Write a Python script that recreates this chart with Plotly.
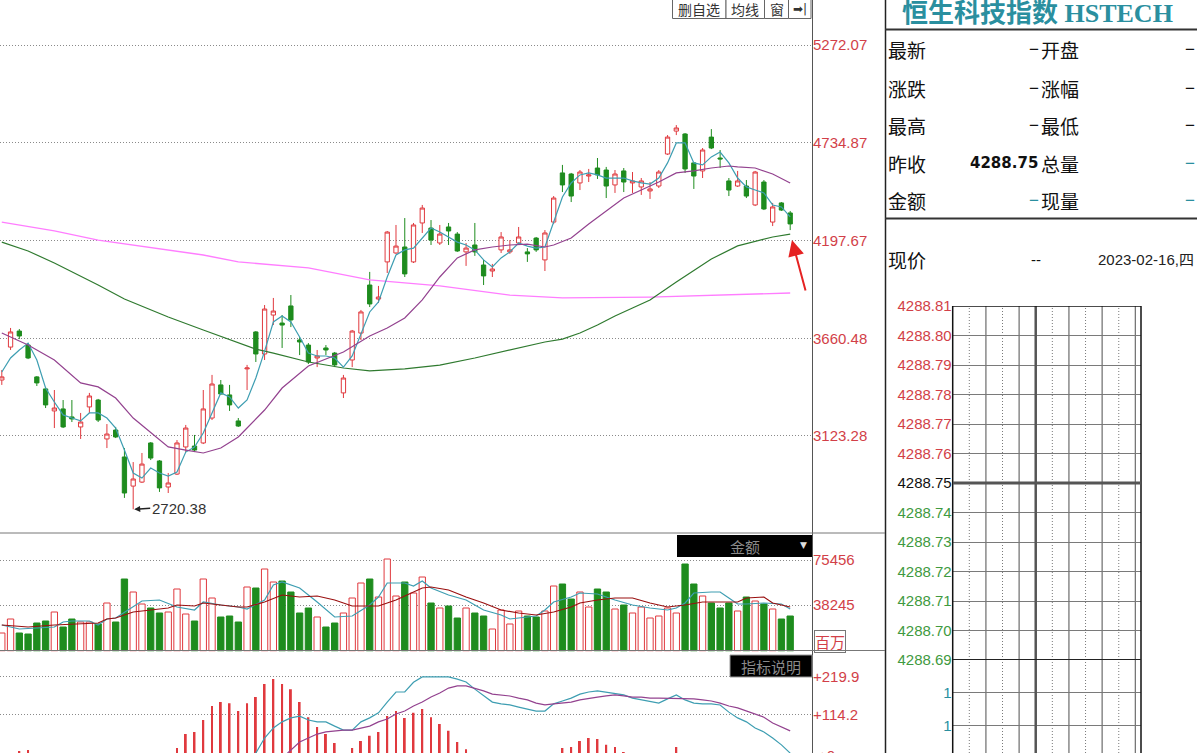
import plotly.graph_objects as go

W, H = 1197, 753

# ---------------- data ----------------
idx = list(range(91))
opens = [3431, 3612, 3700, 3623, 3448, 3382, 3261, 3272, 3228, 3173,
         3283, 3321, 3107, 3156, 3008, 2848, 2870, 3085, 2986, 2843,
         2914, 3063, 3068, 3085, 3222, 3404, 3349, 3206, 3492, 3695,
         3574, 3788, 3744, 3838, 3651, 3623, 3552, 3607, 3579, 3360,
         3541, 3689, 3953, 3876, 4080, 4129, 4162, 4080, 4294, 4266,
         4184, 4272, 4233, 4135, 4173, 4063, 4030, 4146, 4135, 4184,
         4135, 4211, 4091, 4299, 4569, 4563, 4514, 4552, 4596, 4585,
         4503, 4580, 4514, 4492, 4470, 4497, 4673, 4799, 4783, 4624,
         4580, 4766, 4651, 4525, 4497, 4497, 4393, 4519, 4299, 4404,
         4349]
highs = [3486, 3717, 3711, 3634, 3453, 3393, 3376, 3321, 3321, 3250,
         3360, 3327, 3189, 3173, 3057, 2980, 3030, 3090, 2991, 2920,
         3101, 3184, 3129, 3376, 3459, 3431, 3404, 3222, 3514, 3700,
         3843, 3882, 3788, 3898, 3667, 3634, 3596, 3623, 3585, 3459,
         3706, 3816, 4025, 3948, 4250, 4283, 4321, 4294, 4393, 4310,
         4283, 4294, 4244, 4184, 4294, 4091, 4069, 4244, 4200, 4272,
         4156, 4217, 4255, 4442, 4613, 4569, 4585, 4591, 4651, 4602,
         4585, 4596, 4574, 4541, 4519, 4585, 4777, 4832, 4788, 4629,
         4706, 4810, 4695, 4541, 4580, 4530, 4580, 4530, 4404, 4409,
         4360]
lows = [3404, 3596, 3656, 3546, 3398, 3277, 3167, 3167, 3200, 3107,
        3250, 3200, 3057, 3112, 2783, 2720.38, 2865, 2991, 2816, 2810,
        2909, 3035, 3035, 3079, 3211, 3349, 3261, 3173, 3376, 3530,
        3541, 3733, 3607, 3722, 3568, 3519, 3502, 3568, 3502, 3332,
        3502, 3651, 3832, 3854, 4019, 4124, 3997, 4074, 4239, 4173,
        4173, 4173, 4135, 4058, 4113, 3953, 3997, 4129, 4124, 4173,
        4080, 4135, 4030, 4288, 4464, 4409, 4475, 4519, 4536, 4431,
        4459, 4464, 4459, 4448, 4426, 4486, 4668, 4777, 4569, 4481,
        4541, 4700, 4596, 4442, 4492, 4431, 4387, 4365, 4277, 4360,
        4255]
closes = [3448, 3695, 3673, 3552, 3415, 3294, 3277, 3173, 3217, 3200,
          3343, 3211, 3134, 3118, 2810, 2887, 2969, 3002, 2838, 2865,
          3085, 3167, 3046, 3272, 3409, 3354, 3294, 3178, 3497, 3574,
          3821, 3810, 3733, 3761, 3640, 3530, 3563, 3596, 3514, 3442,
          3700, 3805, 3849, 3887, 4244, 4167, 4014, 4283, 4376, 4200,
          4233, 4250, 4140, 4156, 4135, 4003, 4041, 4217, 4146, 4217,
          4124, 4146, 4239, 4431, 4503, 4442, 4574, 4558, 4558, 4497,
          4563, 4519, 4525, 4525, 4481, 4574, 4766, 4816, 4591, 4552,
          4695, 4706, 4646, 4475, 4525, 4442, 4574, 4371, 4382, 4365,
          4288.75]

ma5 = [3475, 3552, 3596, 3634, 3541, 3387, 3310, 3239, 3222, 3206,
       3250, 3250, 3222, 3167, 3046, 2920, 2892, 2947, 2920, 2903,
       2925, 3035, 3063, 3140, 3250, 3360, 3338, 3277, 3321, 3442,
       3590, 3750, 3783, 3750, 3667, 3579, 3563, 3563, 3552, 3502,
       3563, 3689, 3805, 3860, 3997, 4118, 4146, 4156, 4211, 4266,
       4244, 4217, 4189, 4173, 4146, 4091, 4052, 4102, 4135, 4184,
       4167, 4156, 4162, 4299, 4437, 4514, 4558, 4569, 4558, 4541,
       4541, 4541, 4525, 4514, 4508, 4541, 4624, 4734, 4734, 4624,
       4613, 4657, 4684, 4624, 4541, 4492, 4475, 4459, 4393, 4382,
       4327]

ma20_idx = [0, 3, 6, 9, 11, 13, 15, 17, 19, 21, 23, 25, 27, 28, 30, 32, 35, 39, 42, 44,
            46, 48, 50, 52, 54, 56, 58, 60, 62, 63, 65, 67, 69, 71, 73, 75, 77, 79, 81, 83,
            84, 86, 88, 90]
ma20_vals = [3689, 3623, 3541, 3415, 3393, 3332, 3222, 3140, 3063, 3046,
             3030, 3057, 3118, 3167, 3266, 3387, 3508, 3585, 3673, 3717,
             3772, 3871, 3997, 4102, 4146, 4162, 4173, 4178, 4162, 4173,
             4211, 4288, 4360, 4431, 4475, 4519, 4569, 4580, 4596, 4607,
             4602, 4596, 4563, 4514]

ma60_idx = [0, 3, 6, 9, 11, 14, 19, 23, 27, 29, 31, 35, 39, 42, 46, 50, 54, 58, 62, 64,
            66, 68, 70, 72, 74, 77, 81, 84, 88, 90]
ma60_vals = [4189, 4140, 4074, 4003, 3953, 3876, 3777, 3706, 3634, 3601,
             3579, 3530, 3497, 3481, 3492, 3513, 3552, 3596, 3640, 3656,
             3689, 3733, 3783, 3827, 3871, 3970, 4096, 4168, 4217, 4233]

ma250_idx = [0, 6, 11, 17, 23, 27, 35, 42, 50, 58, 64, 74, 90]
ma250_vals = [4299, 4250, 4200, 4157, 4118, 4080, 4047, 3981, 3948, 3898, 3882, 3887, 3909]

volumes = [15091, 26668, 15091, 14264, 23360, 25014, 32456, 20052, 26668, 24187,
           24187, 22533, 39898, 24187, 59743, 48994, 39071, 35763, 31629, 32456,
           51475, 30802, 25014, 59743, 44032, 28321, 29148, 24187, 53128, 52301,
           68013, 57263, 58090, 48994, 31629, 35763, 28321, 20052, 23360, 31629,
           44032, 56436, 59743, 44859, 76281, 45686, 57263, 48167, 61397, 39898,
           35763, 37417, 27494, 35763, 31629, 29148, 18399, 34110, 22533, 33283,
           29148, 28321, 33283, 53955, 55609, 43205, 48994, 36590, 51475, 48994,
           34937, 38244, 31629, 36590, 27494, 29148, 35763, 31629, 72147, 55609,
           45686, 39898, 35763, 39898, 33283, 44859, 41552, 39071, 34937, 26668,
           29148]

vol_ma10_idx = [0, 3, 6, 9, 11, 12, 13, 15, 17, 19, 20, 22, 23, 25, 27, 28, 30, 32, 34, 36,
                38, 40, 42, 43, 45, 48, 49, 51, 53, 55, 57, 59, 61, 63, 65, 66, 68, 70, 72, 74,
                76, 78, 80, 82, 84, 85, 87, 88, 90]
vol_ma10_vals = [21706, 20052, 21706, 22533, 23360, 26668, 27494, 32456, 34110, 35763,
                 38244, 37417, 39898, 38244, 36590, 36590, 40725, 46513, 44859, 45686,
                 42379, 37417, 37417, 37417, 42379, 52301, 53128, 50647, 44859, 39898,
                 34110, 31629, 29975, 32456, 36590, 39898, 42379, 44032, 44032, 39898,
                 36590, 38244, 40725, 40725, 40725, 44032, 44859, 39898, 36590]

vol_ma5_idx = [0, 2, 4, 6, 7, 8, 10, 11, 12, 13, 16, 18, 20, 22, 23, 25, 27, 28, 30, 31,
               32, 34, 36, 38, 40, 42, 43, 44, 46, 47, 48, 49, 51, 53, 55, 57, 58, 60, 61, 62,
               63, 65, 66, 68, 70, 72, 74, 76, 77, 78, 79, 81, 82, 83, 84, 85, 87, 89, 90]
vol_ma5_vals = [21706, 18399, 19226, 20052, 24187, 25014, 25014, 21706, 26668, 27494,
                41552, 42379, 36590, 34110, 40725, 38244, 36590, 34937, 42379, 54783,
                57263, 52301, 40725, 28321, 29148, 38244, 44859, 56436, 56436, 53955,
                58090, 52301, 46513, 42379, 34110, 29975, 26668, 28321, 29148, 34110,
                40725, 44859, 48167, 47340, 42379, 38244, 35763, 34110, 35763, 39898,
                48167, 48994, 48994, 44032, 39071, 39071, 39898, 39071, 34937]

macd_hist = [-15, 4, 14, 17, -6, -20, -30, -45, -50, -55,
             -45, -50, -60, -55, -75, -70, -45, -30, -25, -5,
             22, 61, 67, 100, 139, 150, 147, 125, 147, 164,
             200, 214, 200, 186, 150, 108, 81, 61, 36, 6,
             22, 42, 56, 67, 111, 125, 106, 120, 131, 108,
             89, 70, 39, 19, -5, -20, -30, -25, -30, -28,
             -30, -25, -15, 2, 22, 25, 42, 50, 47, 31,
             25, 11, 3, -3, -8, -5, 5, 25, 2, -8,
             -12, -10, -15, -30, -45, -55, -60, -70, -75, -85,
             -90]
dif_idx = list(range(28, 91))
dif_vals = [-40, 8, 50, 78, 95, 106, 111, 100, 95, 95,
            83, 72, 72, 95, 106, 120, 150, 178, 178, 205,
            220, 220, 220, 220, 214, 206, 186, 167, 150, 145,
            142, 136, 131, 125, 125, 145, 153, 161, 172, 178,
            181, 178, 175, 170, 161, 156, 150, 147, 159, 170,
            156, 147, 145, 145, 142, 122, 106, 95, 78, 67,
            50, 31, 8]
dea_idx = list(range(32, 91))
dea_vals = [-6, 17, 39, 50, 61, 67, 70, 72, 72, 78,
            83, 95, 103, 117, 125, 139, 150, 164, 175, 189,
            195, 195, 189, 181, 172, 170, 167, 161, 156, 147,
            142, 145, 147, 150, 156, 161, 164, 167, 170, 167,
            164, 164, 161, 161, 161, 161, 159, 159, 156, 153,
            147, 139, 134, 125, 117, 108, 92, 81, 70]

price_ticks = [3123.28, 3660.48, 4197.67, 4734.87, 5272.07]
vol_ticks = [38245, 75456]
macd_ticks = [114.2, 219.9]
low_point = (15, 2720.38)

prev_close = 4288.75
intraday_ticks = [4288.81, 4288.80, 4288.79, 4288.78, 4288.77, 4288.76, 4288.75,
                  4288.74, 4288.73, 4288.72, 4288.71, 4288.70, 4288.69]
intraday_pct = ["0.00%"] * 13
sub_vol_ticks = [2, 1]
sub_vol_text = ["1", "1"]

title_text = "恒生科技指数 HSTECH"
info_left = ["最新", "涨跌", "最高", "昨收", "金额"]
info_left_val = ["−", "−", "−", "4288.75", "−"]
info_right = ["开盘", "涨幅", "最低", "总量", "现量"]
info_right_val = ["−", "−", "−", "−", "−"]
price_row = ["现价", "--", "2023-02-16,四"]
toolbar = ["删自选", "均线", "窗", "➡|"]

# ---------------- styles ----------------
RED = "#e0393e"
GREEN = "#1e8c1e"
RED_TXT = "#d23f48"
GREEN_TXT = "#3f9a3f"
TEAL = "#3e9eb2"
PURPLE = "#93428f"
MA60C = "#2f7a2f"
PINK = "#ff7dff"
VOLRED = "#9a1010"
TEAL_TXT = "#2a8f9f"
SANS = "Liberation Sans, Arial, sans-serif"
CJK = "Noto Sans CJK SC, sans-serif"
FINE_DOT = "1px,2px"


def fx(px):
    return px / W


def fy(py):
    return 1 - py / H


fig = go.Figure()

# main price panel
fig.add_trace(go.Scatter(x=ma250_idx, y=ma250_vals, mode="lines", line=dict(color=PINK, width=1.3),
                         xaxis="x", yaxis="y", hoverinfo="skip"))
fig.add_trace(go.Scatter(x=ma60_idx, y=ma60_vals, mode="lines", line=dict(color=MA60C, width=1.2),
                         xaxis="x", yaxis="y", hoverinfo="skip"))
fig.add_trace(go.Candlestick(x=idx, open=opens, high=highs, low=lows, close=closes,
                             increasing=dict(line=dict(color=RED, width=1), fillcolor="white"),
                             decreasing=dict(line=dict(color=GREEN, width=1), fillcolor=GREEN),
                             whiskerwidth=0, xaxis="x", yaxis="y", hoverinfo="skip"))
fig.add_trace(go.Scatter(x=idx, y=ma5, mode="lines", line=dict(color=TEAL, width=1.2),
                         xaxis="x", yaxis="y", hoverinfo="skip"))
fig.add_trace(go.Scatter(x=ma20_idx, y=ma20_vals, mode="lines", line=dict(color=PURPLE, width=1.2),
                         xaxis="x", yaxis="y", hoverinfo="skip"))

# volume panel
up = [c >= o for o, c in zip(opens, closes)]
fig.add_trace(go.Bar(x=idx, y=volumes, width=0.72,
                     marker=dict(color=["white" if u else GREEN for u in up],
                                 line=dict(color=[RED if u else GREEN for u in up], width=1)),
                     xaxis="x", yaxis="y2", hoverinfo="skip"))
fig.add_trace(go.Scatter(x=vol_ma5_idx, y=vol_ma5_vals, mode="lines", line=dict(color=TEAL, width=1.2),
                         xaxis="x", yaxis="y2", hoverinfo="skip"))
fig.add_trace(go.Scatter(x=vol_ma10_idx, y=vol_ma10_vals, mode="lines", line=dict(color=VOLRED, width=1.2),
                         xaxis="x", yaxis="y2", hoverinfo="skip"))

# MACD panel
fig.add_trace(go.Bar(x=idx, y=macd_hist, width=0.22,
                     marker=dict(color=[RED if v > 0 else GREEN for v in macd_hist], line=dict(width=0)),
                     xaxis="x", yaxis="y3", hoverinfo="skip"))
fig.add_trace(go.Scatter(x=dif_idx, y=dif_vals, mode="lines", line=dict(color=TEAL, width=1.2),
                         xaxis="x", yaxis="y3", hoverinfo="skip"))
fig.add_trace(go.Scatter(x=dea_idx, y=dea_vals, mode="lines", line=dict(color=PURPLE, width=1.2),
                         xaxis="x", yaxis="y3", hoverinfo="skip"))

# empty intraday panes (no trades yet): register the subplots so their axes are drawn
fig.add_trace(go.Scatter(x=[], y=[], xaxis="x4", yaxis="y4", hoverinfo="skip"))
fig.add_trace(go.Scatter(x=[], y=[], xaxis="x4", yaxis="y6", hoverinfo="skip"))


def tick_color(v):
    if v > prev_close + 1e-9:
        return RED_TXT
    if v < prev_close - 1e-9:
        return GREEN_TXT
    return "#111111"


left_ticktext = ['<span style="color:%s">%.2f</span>' % (tick_color(v), v) for v in intraday_ticks]
right_ticktext = ['<span style="color:%s">%s</span>' % (tick_color(v), t) for v, t in zip(intraday_ticks, intraday_pct)]

axis_off = dict(showgrid=False, zeroline=False, showticklabels=False, showline=False, ticks="")

layout = dict(
    width=W, height=H, autosize=False, margin=dict(l=0, r=0, t=0, b=0, pad=0, autoexpand=False),
    paper_bgcolor="white", plot_bgcolor="rgba(0,0,0,0)", showlegend=False,
    barmode="overlay", hovermode=False,
    xaxis=dict(domain=[0, fx(812)], range=[-0.205, 92.49], anchor="y", visible=False,
               rangeslider=dict(visible=False), **axis_off),
    yaxis=dict(domain=[fy(532), 1], range=[2595.66, 5519.38], anchor="x", side="right",
               tickvals=price_ticks, ticktext=["%.2f" % v for v in price_ticks],
               tickfont=dict(color=RED_TXT, size=15, family=SANS),
               showgrid=True, gridcolor="#8a8a8a", griddash=FINE_DOT, gridwidth=1,
               zeroline=False, showline=False, ticks=""),
    yaxis2=dict(domain=[fy(651.25), fy(533)], range=[0, 97781], anchor="x", side="right",
                tickvals=vol_ticks, ticktext=[str(v) for v in vol_ticks],
                tickfont=dict(color=RED_TXT, size=15, family=SANS),
                showgrid=True, gridcolor="#8a8a8a", griddash=FINE_DOT, gridwidth=1,
                zeroline=False, showline=False, ticks=""),
    yaxis3=dict(domain=[0, fy(651.25)], range=[8.34, 291.4], anchor="x", side="right",
                tickvals=macd_ticks, ticktext=["+%.1f" % v for v in macd_ticks],
                tickfont=dict(color=RED_TXT, size=15, family=SANS),
                showgrid=True, gridcolor="#8a8a8a", griddash=FINE_DOT, gridwidth=1,
                zeroline=False, showline=False, ticks=""),
    xaxis4=dict(domain=[fx(952.7), fx(1141)], range=[0, 11.34], anchor="y4", visible=False, **axis_off),
    yaxis4=dict(domain=[fy(660), fy(306)], range=[4288.69, 4288.81], anchor="x4", side="left",
                tickvals=intraday_ticks, ticktext=left_ticktext,
                tickfont=dict(size=15, family=SANS),
                showgrid=True, gridcolor="#7a7a7a", gridwidth=1.3, zeroline=False, showline=False, ticks=""),
    yaxis5=dict(range=[4288.69, 4288.81], overlaying="y4", anchor="x4", side="right",
                tickvals=intraday_ticks, ticktext=right_ticktext,
                tickfont=dict(size=15, family=SANS),
                showgrid=False, zeroline=False, showline=False, ticks=""),
    yaxis6=dict(domain=[0, fy(660)], range=[0.18, 3.0], anchor="x4", side="left",
                tickvals=sub_vol_ticks, ticktext=sub_vol_text,
                tickfont=dict(size=15, family=SANS, color=TEAL_TXT),
                showgrid=True, gridcolor="#7a7a7a", gridwidth=1.3, zeroline=False, showline=False, ticks=""),
)

shapes = []


def pline(x0, y0, x1, y1, color, width, dash="solid"):
    shapes.append(dict(type="line", xref="paper", yref="paper", x0=fx(x0), y0=fy(y0), x1=fx(x1), y1=fy(y1),
                       line=dict(color=color, width=width, dash=dash), layer="above"))


# panel frames
pline(812.5, 0, 812.5, 753, "#555555", 1)
pline(885.5, 0, 885.5, 753, "#222222", 1.5)
pline(0, 533, 885, 533, "#777777", 1)
pline(0, 650.5, 885, 650.5, "#777777", 1)
pline(885, 29.5, 1197, 29.5, "#333333", 2)
pline(885, 218.5, 1197, 218.5, "#333333", 2)

# intraday session grid (half-hour divisions)
session_dotted = [1, 3, 6, 8, 10]
session_solid = [2, 4, 7, 9, 11]
for k in session_dotted:
    shapes.append(dict(type="line", xref="x4", yref="paper", x0=k, x1=k, y0=0, y1=fy(306),
                       line=dict(color="#7a7a7a", width=1, dash=FINE_DOT)))
for k in session_solid:
    shapes.append(dict(type="line", xref="x4", yref="paper", x0=k, x1=k, y0=0, y1=fy(306),
                       line=dict(color="#777777", width=1.3)))
shapes.append(dict(type="line", xref="x4", yref="paper", x0=5, x1=5, y0=0, y1=fy(306),
                   line=dict(color="#555555", width=2.5)))
pline(952.7, 306, 952.7, 753, "#111111", 1.5)
pline(1141, 306, 1141, 753, "#111111", 1.5)
shapes.append(dict(type="line", xref="x4", yref="y4", x0=0, x1=11.34, y0=intraday_ticks[0], y1=intraday_ticks[0],
                   line=dict(color="#111111", width=1.5)))
shapes.append(dict(type="line", xref="x4", yref="y4", x0=0, x1=11.34, y0=prev_close, y1=prev_close,
                   line=dict(color="#555555", width=3)))
shapes.append(dict(type="line", xref="x4", yref="y4", x0=0, x1=11.34, y0=intraday_ticks[-1], y1=intraday_ticks[-1],
                   line=dict(color="#222222", width=2)))

# toolbar buttons
btn_edges = [672.5, 726, 764.5, 788.5, 811]
for a, b in zip(btn_edges[:-1], btn_edges[1:]):
    shapes.append(dict(type="rect", xref="paper", yref="paper", x0=fx(a), x1=fx(b), y0=fy(18.5), y1=fy(-2),
                       line=dict(color="#666666", width=1), fillcolor="white"))

# black label boxes
shapes.append(dict(type="rect", xref="paper", yref="paper", x0=fx(677), x1=fx(812), y0=fy(557), y1=fy(535),
                   line=dict(width=0), fillcolor="black"))
shapes.append(dict(type="rect", xref="paper", yref="paper", x0=fx(730), x1=fx(812), y0=fy(677), y1=fy(655),
                   line=dict(color="#999999", width=1), fillcolor="black"))

layout["shapes"] = shapes

ann = []


def text(px, py, s, size, color, family=CJK, xanchor="left", yanchor="middle", **kw):
    d = dict(x=fx(px), y=fy(py), xref="paper", yref="paper", text=s, showarrow=False,
             xanchor=xanchor, yanchor=yanchor, font=dict(size=size, color=color, family=family))
    d.update(kw)
    ann.append(d)


# toolbar labels
for (a, b), s in zip(zip(btn_edges[:-1], btn_edges[1:]), toolbar):
    text((a + b) / 2, 9.5, s, 14 if s != "➡|" else 12, "#333333",
         family=CJK if s != "➡|" else "DejaVu Sans", xanchor="center", borderpad=0)

# title & info panel
text(1037, 14, "<b>%s</b>" % title_text, 26, TEAL_TXT, family="Liberation Serif, Noto Sans CJK SC, serif",
     xanchor="center", borderpad=0)
rows_y = [50, 88, 126, 163, 200]
for i, yy in enumerate(rows_y):
    text(886, yy, info_left[i], 19, "#111111")
    lv = info_left_val[i]
    if lv == "4288.75":
        text(1040, yy, "<b>%s</b>" % lv, 15, "#111111", family="DejaVu Sans", xanchor="right")
    else:
        text(1041, yy, lv, 17, TEAL_TXT if i == 4 else "#111111", family=SANS, xanchor="right")
    text(1039, yy, info_right[i], 19, "#111111")
    text(1197, yy, info_right_val[i], 17, TEAL_TXT if i >= 3 else "#111111", family=SANS, xanchor="right")

text(886, 259, price_row[0], 19, "#111111")
text(1036, 259, price_row[1], 15, "#111111", family=SANS, xanchor="center")
text(1196, 259, price_row[2], 15, "#222222", family="Liberation Sans, Noto Sans CJK SC", xanchor="right")

# panel labels
text(745, 546, "金额", 15, "#8a8a8a", xanchor="center")
text(803, 545, "▼", 9, "#dddddd", family="DejaVu Sans", xanchor="center")
text(771, 666, "指标说明", 15, "#8a8a8a", xanchor="center")
text(830, 641, "百万", 15, RED_TXT, xanchor="center", bordercolor="#777777", borderwidth=1, borderpad=0)
text(816, 755, "+0", 15, RED_TXT, family=SANS)

# low marker and red arrow
ann.append(dict(x=low_point[0], y=low_point[1], xref="x", yref="y", text=f"{low_point[1]:.2f}",
                showarrow=True, ax=17, ay=-1, xanchor="left", arrowhead=2, arrowsize=0.8, arrowwidth=1.5,
                arrowcolor="#222222", font=dict(size=15, color="#333333", family=SANS), standoff=1))
ann.append(dict(x=90.2, y=4200, xref="x", yref="y", text="", showarrow=True, ax=14, ay=52,
                arrowhead=2, arrowsize=1.6, arrowwidth=2, arrowcolor="#e52222"))

layout["annotations"] = ann
fig.update_layout(**layout)
fig.write_html("out.html")
